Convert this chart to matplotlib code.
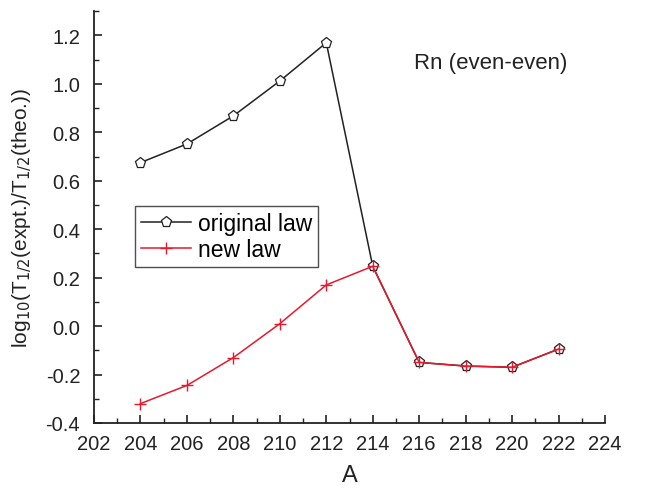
import matplotlib.pyplot as plt
from matplotlib.ticker import MultipleLocator

plt.rcParams['font.family'] = ['Liberation Sans', 'DejaVu Sans']

# mass numbers and log10 ratios
A = [204, 206, 208, 210, 212, 214, 216, 218, 220, 222]
orig_law = [0.675, 0.752, 0.868, 1.012, 1.170, 0.247, -0.150, -0.165, -0.170, -0.095]
new_law = [-0.320, -0.245, -0.130, 0.010, 0.170, 0.247, -0.150, -0.165, -0.170, -0.095]

fig = plt.figure(figsize=(6.67, 4.89), dpi=100)
ax = fig.add_axes([0.141, 0.133, 0.766, 0.842])

ax.plot(A, orig_law, color='#222222', lw=1.1, marker='p', markersize=8,
        markerfacecolor='white', markeredgecolor='#222222', markeredgewidth=0.9,
        label='original law')
ax.plot(A, new_law, color='#e8192c', lw=1.1, marker='+', markersize=8,
        markeredgewidth=1.0, label='new law')

ax.set_xlim(202, 224)
ax.set_ylim(-0.4, 1.3)
ax.xaxis.set_major_locator(MultipleLocator(2))
ax.xaxis.set_minor_locator(MultipleLocator(1))
ax.yaxis.set_major_locator(MultipleLocator(0.2))
ax.yaxis.set_minor_locator(MultipleLocator(0.1))
ax.set_yticks([-0.4, -0.2, 0.0, 0.2, 0.4, 0.6, 0.8, 1.0, 1.2])
ax.set_yticklabels(['-0.4', '-0.2', '0.0', '0.2', '0.4', '0.6', '0.8', '1.0', '1.2'])

for s in ['top', 'right']:
    ax.spines[s].set_visible(False)
for s in ['left', 'bottom']:
    ax.spines[s].set_linewidth(1.3)
    ax.spines[s].set_color('#222222')
ax.tick_params(which='major', direction='in', length=6, width=1.2, labelsize=14.5, colors='#222222')
ax.tick_params(axis='x', which='major', pad=8)
ax.tick_params(axis='y', which='major', pad=10)
ax.tick_params(which='minor', direction='in', length=3.5, width=1.0, colors='#222222')

ax.set_xlabel('A', fontsize=17, color='#222222', labelpad=8)
ax.set_ylabel(r'log$_{10}$(T$_{1/2}$(expt.)/T$_{1/2}$(theo.))', fontsize=15, color='#222222', labelpad=8)

ax.text(219.1, 1.09, 'Rn (even-even)', fontsize=16, ha='center', va='center', color='#222222')

leg = ax.legend(loc='upper left', bbox_to_anchor=(0.08, 0.527), fontsize=16.5, frameon=True,
                fancybox=False, edgecolor='#222222', handlelength=2.2, handletextpad=0.3,
                borderpad=0.25, labelspacing=0.15, numpoints=1, borderaxespad=0)
leg.get_frame().set_linewidth(1.0)

fig.savefig('out.png', dpi=100)
